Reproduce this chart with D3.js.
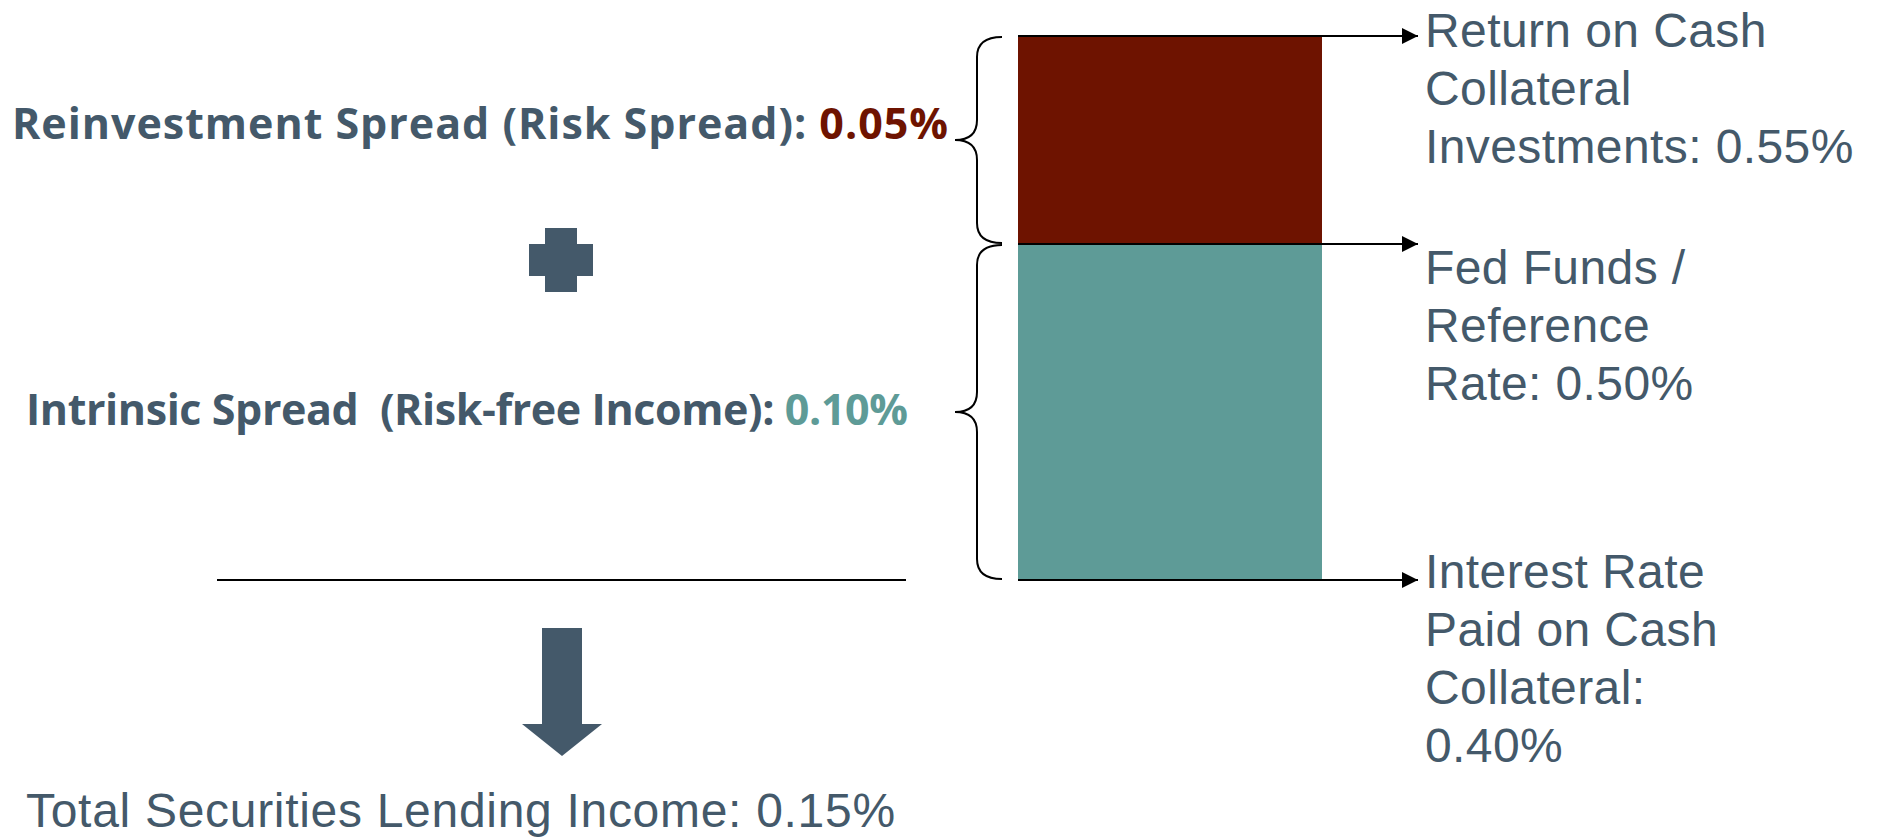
<!DOCTYPE html>
<html>
<head>
<meta charset="utf-8">
<script src="https://cdn.jsdelivr.net/npm/d3@7"></script>
<style>
  html, body { margin: 0; padding: 0; background: #ffffff; }
  svg { display: block; }
</style>
</head>
<body>
<svg id="chart" width="1879" height="837"></svg>
<script>
// ---------------- DATA ----------------
// Rate levels (bottom -> top) marked on the stacked bar
const levelNames = ["Interest Rate Paid on Cash Collateral", "Fed Funds / Reference Rate", "Return on Cash Collateral Investments"];
const levelValues = [0.40, 0.50, 0.55];
const levelLabelLines = [
  ["Interest Rate", "Paid on Cash", "Collateral:", "0.40%"],
  ["Fed Funds /", "Reference", "Rate: 0.50%"],
  ["Return on Cash", "Collateral", "Investments: 0.55%"]
];
// Spread segments (bottom -> top)
const spreadNames = ["Intrinsic Spread  (Risk-free Income): ", "Reinvestment Spread (Risk Spread): "];
const spreadValues = [0.10, 0.05];
const spreadValueLabels = ["0.10%", "0.05%"];
const totalLabel = "Total Securities Lending Income: 0.15%";

// ---------------- STYLE / LAYOUT ----------------
const textColor = "#44596a";
const spreadColors = ["#5e9b97", "#6e1300"];
const barX0 = 1018, barX1 = 1322;
const arrowEndX = 1418;
const labelX = 1425;
const lineGap = 58;
const labelFirstBaselineOffset = [8, 40, 11];
const braceEndX = 1002, braceLineX = 977, braceTipX = 955, braceR = 20;
const spreadLabelLayout = [
  { x: 26, baseline: 425, width: 882 },
  { x: 12, baseline: 139, width: 936 }
];

const svg = d3.select("#chart");

// Piecewise scale: the diagram is not drawn proportionally
const y = d3.scaleLinear()
  .domain(levelValues)
  .range([580, 244, 36]);

// defs: arrow marker
const defs = svg.append("defs");
defs.append("marker")
  .attr("id", "arrowhead")
  .attr("viewBox", "0 0 10 10")
  .attr("refX", 10).attr("refY", 5)
  .attr("markerWidth", 16).attr("markerHeight", 16)
  .attr("markerUnits", "userSpaceOnUse")
  .attr("orient", "auto")
  .append("path")
  .attr("d", "M0,0 L10,5 L0,10 Z")
  .attr("fill", "#000");

// bar segments
const segs = spreadValues.map((v, i) => ({ lo: levelValues[i], hi: levelValues[i + 1], color: spreadColors[i] }));
svg.append("g").selectAll("rect")
  .data(segs)
  .join("rect")
  .attr("x", barX0)
  .attr("width", barX1 - barX0)
  .attr("y", d => y(d.hi))
  .attr("height", d => y(d.lo) - y(d.hi))
  .attr("fill", d => d.color);

// arrow lines at each level
svg.append("g").selectAll("line")
  .data(levelValues)
  .join("line")
  .attr("x1", barX0)
  .attr("x2", arrowEndX)
  .attr("y1", d => y(d))
  .attr("y2", d => y(d))
  .attr("stroke", "#000")
  .attr("stroke-width", 2)
  .attr("marker-end", "url(#arrowhead)");

// level labels
const lg = svg.append("g")
  .attr("font-family", "'Liberation Sans', Arial, Helvetica, sans-serif")
  .attr("font-size", 48)
  .attr("letter-spacing", 0.4)
  .attr("fill", textColor);
levelLabelLines.forEach((lines, i) => {
  const t = lg.append("text")
    .attr("x", labelX)
    .attr("y", y(levelValues[i]) + labelFirstBaselineOffset[i]);
  t.selectAll("tspan")
    .data(lines)
    .join("tspan")
    .attr("x", labelX)
    .attr("dy", (d, j) => j === 0 ? 0 : lineGap)
    .text(d => d);
});

// braces
function bracePath(yTop, yBot) {
  const ym = (yTop + yBot) / 2;
  const r = braceR;
  return `M${braceEndX},${yTop} Q${braceLineX},${yTop} ${braceLineX},${yTop + r}` +
    ` L${braceLineX},${ym - r} Q${braceLineX},${ym} ${braceTipX},${ym}` +
    ` Q${braceLineX},${ym} ${braceLineX},${ym + r}` +
    ` L${braceLineX},${yBot - r} Q${braceLineX},${yBot} ${braceEndX},${yBot}`;
}
svg.append("g").selectAll("path")
  .data(segs)
  .join("path")
  .attr("d", d => bracePath(y(d.hi) + 1, y(d.lo) - 1))
  .attr("fill", "none")
  .attr("stroke", "#000")
  .attr("stroke-width", 2);

// spread labels (left)
const sg = svg.append("g")
  .attr("font-family", "'Open Sans', 'Noto Sans', sans-serif")
  .attr("font-weight", 700)
  .attr("font-size", 43)
  .attr("fill", textColor)
  .style("white-space", "pre");
spreadNames.forEach((name, i) => {
  const L = spreadLabelLayout[i];
  const t = sg.append("text")
    .attr("x", L.x)
    .attr("y", L.baseline)
    .attr("textLength", L.width)
    .attr("lengthAdjust", "spacing")
    .attr("xml:space", "preserve");
  t.append("tspan").text(name);
  t.append("tspan").attr("fill", spreadColors[i]).text(spreadValueLabels[i]);
});

// plus sign
const px = 561, py = 260, pr = 32, pw = 16;
svg.append("path")
  .attr("d", `M${px - pw},${py - pr} H${px + pw} V${py - pw} H${px + pr} V${py + pw} H${px + pw} V${py + pr} H${px - pw} V${py + pw} H${px - pr} V${py - pw} H${px - pw} Z`)
  .attr("fill", textColor);

// horizontal rule
svg.append("line")
  .attr("x1", 217).attr("x2", 906)
  .attr("y1", y(levelValues[0])).attr("y2", y(levelValues[0]))
  .attr("stroke", "#000").attr("stroke-width", 2);

// down arrow
const ax = 562, aTop = 628, aHeadTop = 724, aTip = 756, aShaft = 20, aHead = 40;
svg.append("path")
  .attr("d", `M${ax - aShaft},${aTop} H${ax + aShaft} V${aHeadTop} H${ax + aHead} L${ax},${aTip} L${ax - aHead},${aHeadTop} H${ax - aShaft} Z`)
  .attr("fill", textColor);

// total label
svg.append("text")
  .attr("x", 26)
  .attr("y", 827)
  .attr("font-family", "'Liberation Sans', Arial, Helvetica, sans-serif")
  .attr("font-size", 48)
  .attr("letter-spacing", 0.7)
  .attr("fill", textColor)
  .text(totalLabel);
</script>
</body>
</html>
